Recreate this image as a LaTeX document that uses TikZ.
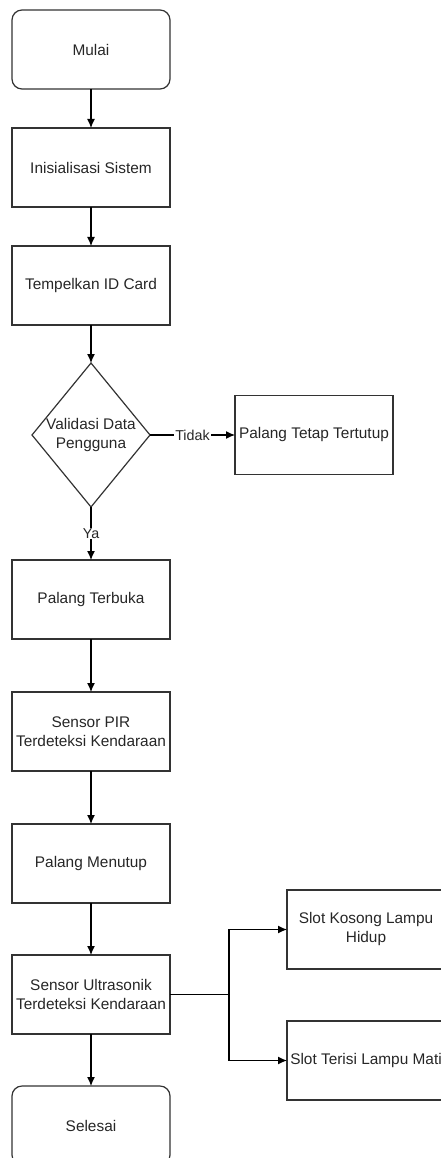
\documentclass[tikz,border=0pt]{standalone}
\usepackage{fontspec}
\setmainfont{Liberation Sans}
\usepackage{tikz}
\usetikzlibrary{positioning,shapes.geometric,arrows.meta}
\usepackage{xcolor}

\begin{document}
\begin{tikzpicture}[x=1pt, y=1pt,
  font=\fontsize{15.4}{19}\selectfont, text=black!85,
  box/.style={draw=black!80, line width=1.2pt, minimum width=158pt,
    minimum height=79pt, align=center, inner sep=1pt, outer sep=0pt},
  term/.style={box, rounded corners=10pt},
  dec/.style={draw=black!80, line width=1.2pt, diamond, minimum width=118pt,
    minimum height=144pt, inner sep=0pt, outer sep=0pt},
  every label/.style={align=center},
  arr/.style={draw=black, line width=1.2pt, -{Latex[length=9pt,width=8pt]}},
  lbl/.style={fill=white, inner sep=1pt, font=\fontsize{14.3}{17}\selectfont}]
  \useasboundingbox (0,0) rectangle (441,-1158);
  \node[term] (mulai) at (91,-49.5) {Mulai};
  \node[box, below=39pt of mulai] (init) {Inisialisasi Sistem};
  \node[box, below=39pt of init] (tempel) {Tempelkan ID Card};
  \node[dec, below=38pt of tempel,
    label={center:Validasi Data\\Pengguna}] (valid) {};
  \node[box, right=85pt of valid] (tetap) {Palang Tetap Tertutup};
  \node[box, below=53pt of valid] (buka) {Palang Terbuka};
  \node[box, below=53pt of buka] (pir) {Sensor PIR\\Terdeteksi Kendaraan};
  \node[box, below=53pt of pir] (tutup) {Palang Menutup};
  \node[box, below=52pt of tutup] (ultra) {Sensor Ultrasonik\\Terdeteksi Kendaraan};
  \node[term, below=52pt of ultra] (selesai) {Selesai};
  \node[box, right=117pt of ultra, yshift=65pt] (kosong) {Slot Kosong Lampu\\Hidup};
  \node[box, right=117pt of ultra, yshift=-66pt] (terisi) {Slot Terisi Lampu Mati};
  \coordinate[right=59pt of ultra] (cabang);

  \draw[arr] (mulai) -- (init);
  \draw[arr] (init) -- (tempel);
  \draw[arr] (tempel) -- (valid);
  \draw[arr] (valid) -- node[lbl] (tidak) {Tidak} (tetap);
  \draw[arr] (valid) -- node[lbl] (ya) {Ya} (buka);
  \draw[arr] (buka) -- (pir);
  \draw[arr] (pir) -- (tutup);
  \draw[arr] (tutup) -- (ultra);
  \draw[arr] (ultra) -- (selesai);
  \draw[line width=1.2pt] (ultra.east) -- (cabang);
  \draw[arr] (cabang) |- (kosong);
  \draw[arr] (cabang) |- (terisi);
\end{tikzpicture}
\end{document}
